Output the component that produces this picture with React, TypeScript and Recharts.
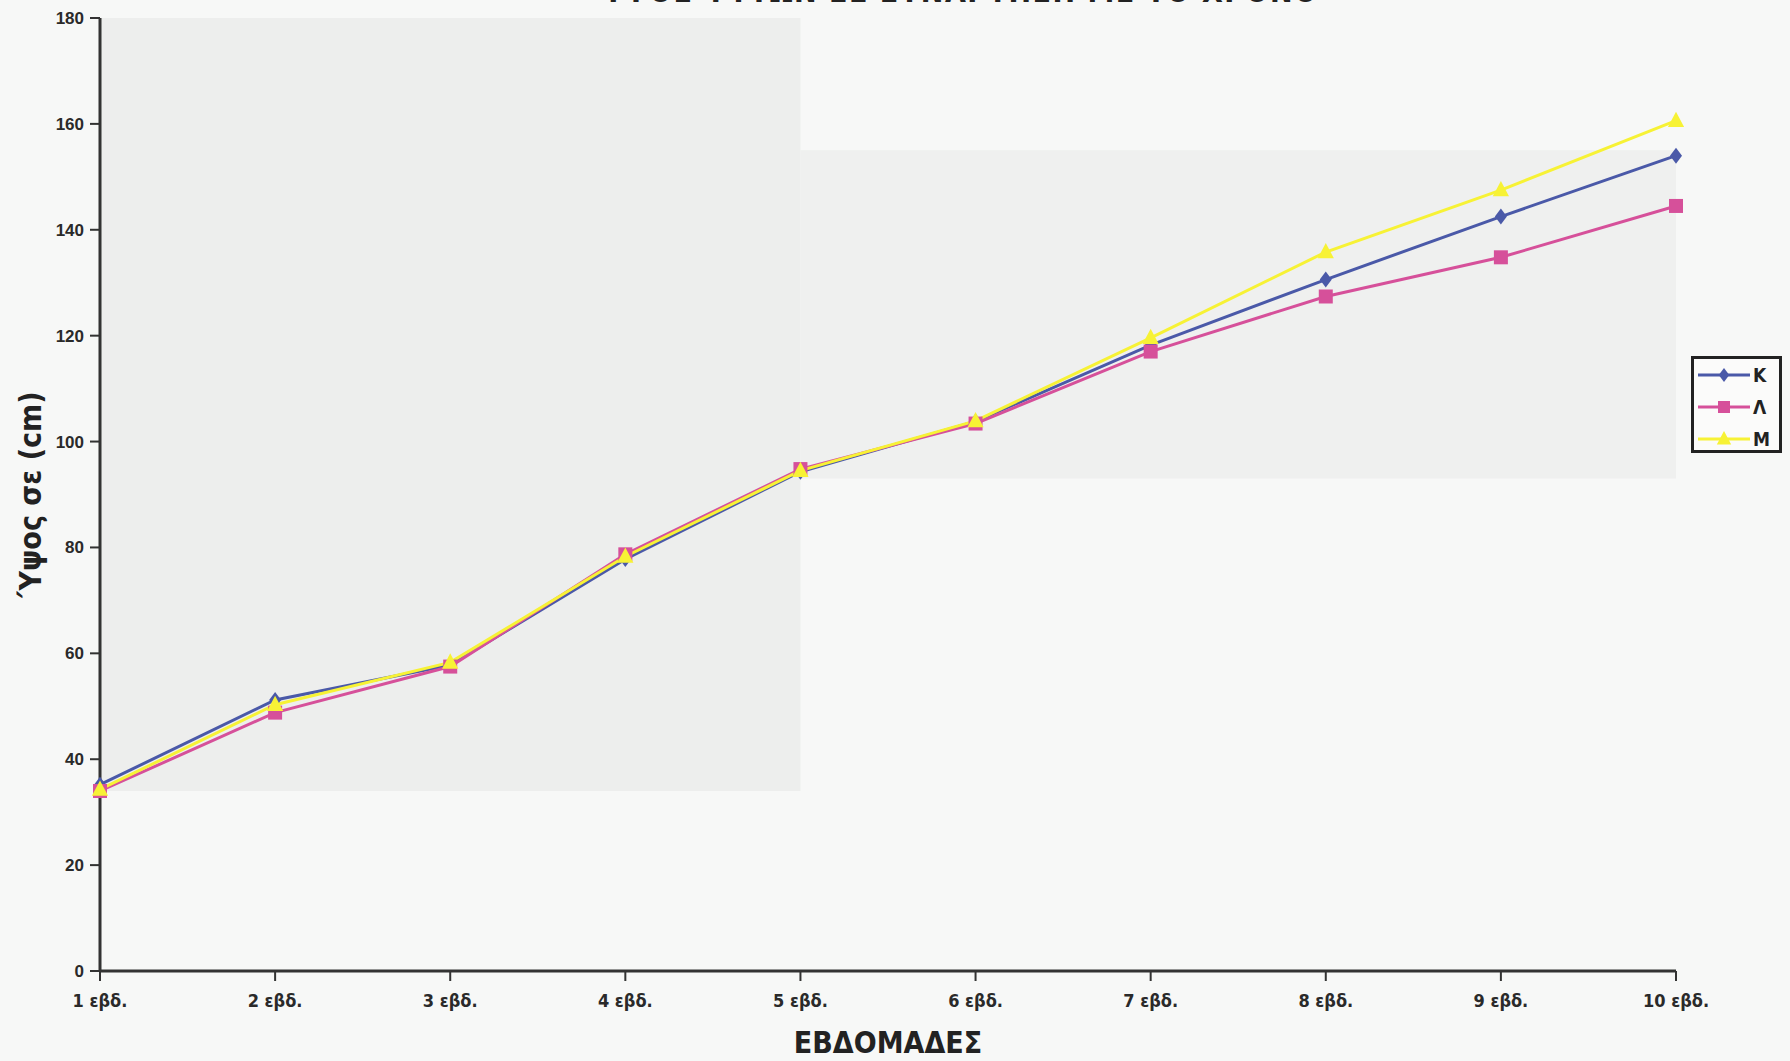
import React from "react";
import {
  LineChart,
  Line,
  XAxis,
  YAxis,
  ReferenceArea,
} from "recharts";

const weeks = [
  "1 εβδ.",
  "2 εβδ.",
  "3 εβδ.",
  "4 εβδ.",
  "5 εβδ.",
  "6 εβδ.",
  "7 εβδ.",
  "8 εβδ.",
  "9 εβδ.",
  "10 εβδ.",
];
const heightK = [35.2, 51.2, 57.8, 77.8, 94.3, 103.8, 118.2, 130.6, 142.5, 154.0];
const heightL = [34.0, 48.8, 57.5, 78.7, 94.8, 103.4, 117.0, 127.4, 134.8, 144.5];
const heightM = [34.3, 50.3, 58.3, 78.3, 94.5, 103.9, 119.6, 135.8, 147.5, 160.6];
const yTicks = [0, 20, 40, 60, 80, 100, 120, 140, 160, 180];

const BLUE = "#4a59a8";
const PINK = "#d6509a";
const YELLOW = "#f7f235";

const data = weeks.map((w, i) => ({
  week: w,
  K: heightK[i],
  L: heightL[i],
  M: heightM[i],
}));

const narrow = "'Liberation Sans Narrow', 'DejaVu Sans Condensed', Arial, sans-serif";
const bold = "'Liberation Sans', Arial, sans-serif";

function diamond(color: string, r = 8) {
  return (p: any) => {
    const { cx, cy, index } = p;
    if (cx == null || cy == null) return <g key={`dk${index}`} />;
    return (
      <path
        key={`dk${index}`}
        d={`M${cx},${cy - r} L${cx + r * 0.75},${cy} L${cx},${cy + r} L${cx - r * 0.75},${cy} Z`}
        fill={color}
      />
    );
  };
}

function square(color: string, r = 7) {
  return (p: any) => {
    const { cx, cy, index } = p;
    if (cx == null || cy == null) return <g key={`sq${index}`} />;
    return <rect key={`sq${index}`} x={cx - r} y={cy - r} width={r * 2} height={r * 2} fill={color} />;
  };
}

function triangle(color: string, r = 9) {
  return (p: any) => {
    const { cx, cy, index } = p;
    if (cx == null || cy == null) return <g key={`tr${index}`} />;
    return (
      <path
        key={`tr${index}`}
        d={`M${cx},${cy - r} L${cx + r * 0.9},${cy + r * 0.7} L${cx - r * 0.9},${cy + r * 0.7} Z`}
        fill={color}
      />
    );
  };
}

const legendItems = [
  { label: "K", color: BLUE, shape: "diamond" },
  { label: "Λ", color: PINK, shape: "square" },
  { label: "M", color: YELLOW, shape: "triangle" },
];

function LegendBox() {
  return (
    <div
      style={{
        position: "absolute",
        left: 1691,
        top: 356,
        width: 91,
        height: 97,
        border: "3px solid #222",
        background: "#fbfbfa",
        boxSizing: "border-box",
      }}
    >
      <svg width={85} height={91} style={{ display: "block" }}>
        {legendItems.map((it, i) => {
          const y = 16 + i * 32;
          const cx = 30;
          return (
            <g key={it.label}>
              <line x1={4} x2={56} y1={y} y2={y} stroke={it.color} strokeWidth={3} />
              {it.shape === "diamond" && diamond(it.color, 7)({ cx, cy: y, index: i })}
              {it.shape === "square" && square(it.color, 6)({ cx, cy: y, index: i })}
              {it.shape === "triangle" && triangle(it.color, 8)({ cx, cy: y, index: i })}
              <text
                x={59}
                y={y + 7}
                fontFamily={narrow}
                fontWeight="bold"
                fontSize={19}
                fill="#222"
              >
                {it.label}
              </text>
            </g>
          );
        })}
      </svg>
    </div>
  );
}

function XTick(props: any) {
  const { x, y, payload } = props;
  return (
    <text
      x={x}
      y={y + 24}
      textAnchor="middle"
      fontFamily={narrow}
      fontWeight="bold"
      fontSize={18}
      fill="#2a2a2a"
    >
      {payload.value}
    </text>
  );
}

function YTick(props: any) {
  const { x, y, payload } = props;
  return (
    <text
      x={x - 4}
      y={y + 6}
      textAnchor="end"
      fontFamily={bold}
      fontWeight="bold"
      fontSize={17}
      fill="#2a2a2a"
    >
      {payload.value}
    </text>
  );
}

export default function App() {
  return (
    <div
      style={{
        position: "absolute",
        left: 0,
        top: 0,
        width: 1790,
        height: 1061,
        background: "#f7f8f7",
        overflow: "hidden",
      }}
    >
      <div
        style={{
          position: "absolute",
          left: 0,
          width: 1922,
          top: -26,
          textAlign: "center",
          fontFamily: narrow,
          fontWeight: "bold",
          fontSize: 30,
          letterSpacing: 1.5,
          color: "#222",
        }}
      >
        ΥΨΟΣ ΦΥΤΩΝ ΣΕ ΣΥΝΑΡΤΗΣΗ ΜΕ ΤΟ ΧΡΟΝΟ
      </div>
      <LineChart
        width={1790}
        height={1061}
        data={data}
        margin={{ top: 18, right: 114, bottom: 4, left: 0 }}
        style={{ position: "absolute", left: 0, top: 0 }}
      >
        <ReferenceArea x1="1 εβδ." x2="5 εβδ." y1={34} y2={180} fill="#e8e9e8" fillOpacity={0.7} stroke="none" />
        <ReferenceArea x1="5 εβδ." x2="10 εβδ." y1={93} y2={155} fill="#ebeceb" fillOpacity={0.7} stroke="none" />
        <XAxis
          dataKey="week"
          height={86}
          tick={<XTick />}
          tickSize={10}
          tickLine={{ stroke: "#333", strokeWidth: 2 }}
          axisLine={{ stroke: "#333", strokeWidth: 3 }}
          interval={0}
          label={{
            value: "ΕΒΔΟΜΑΔΕΣ",
            position: "insideBottom",
            offset: 4,
            style: { fontFamily: narrow, fontWeight: "bold", fontSize: 30, fill: "#222" },
          }}
        />
        <YAxis
          width={100}
          domain={[0, 180]}
          ticks={yTicks}
          tick={<YTick />}
          tickSize={10}
          tickLine={{ stroke: "#333", strokeWidth: 2 }}
          axisLine={{ stroke: "#333", strokeWidth: 3 }}
          label={{
            value: "Ύψος σε (cm)",
            angle: -90,
            position: "insideLeft",
            offset: 30,
            style: { textAnchor: "middle", fontFamily: narrow, fontWeight: "bold", fontSize: 30, fill: "#222" },
          }}
        />
        <Line
          type="linear"
          dataKey="K"
          name="K"
          stroke={BLUE}
          strokeWidth={3}
          dot={diamond(BLUE)}
          activeDot={false}
          isAnimationActive={false}
        />
        <Line
          type="linear"
          dataKey="L"
          name="Λ"
          stroke={PINK}
          strokeWidth={3}
          dot={square(PINK)}
          activeDot={false}
          isAnimationActive={false}
        />
        <Line
          type="linear"
          dataKey="M"
          name="M"
          stroke={YELLOW}
          strokeWidth={3}
          dot={triangle(YELLOW)}
          activeDot={false}
          isAnimationActive={false}
        />
      </LineChart>
      <LegendBox />
    </div>
  );
}
